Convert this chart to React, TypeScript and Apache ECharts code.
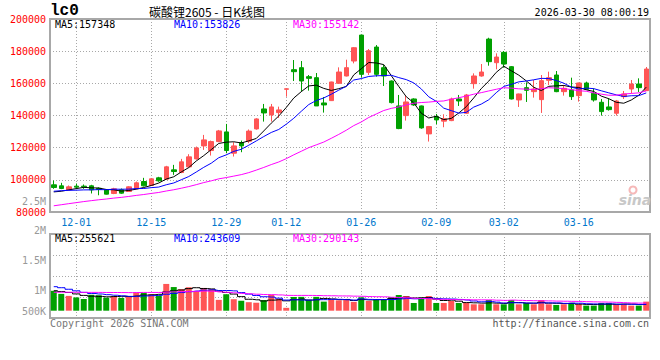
import React, { useEffect, useRef } from "react";
import * as echarts from "echarts";

// ---------- data ----------
const dates = [
  "11-26", "11-27", "11-28",
  "12-01", "12-02", "12-03", "12-04", "12-05",
  "12-08", "12-09", "12-10", "12-11", "12-12",
  "12-15", "12-16", "12-17", "12-18", "12-19",
  "12-22", "12-23", "12-24", "12-25", "12-26",
  "12-29", "12-30", "12-31",
  "01-05", "01-06", "01-07", "01-08", "01-09",
  "01-12", "01-13", "01-14", "01-15", "01-16",
  "01-19", "01-20", "01-21", "01-22", "01-23",
  "01-26", "01-27", "01-28", "01-29", "01-30",
  "02-02", "02-03", "02-04", "02-05", "02-06",
  "02-09", "02-10", "02-11", "02-12", "02-13",
  "02-24", "02-25", "02-26", "02-27",
  "03-02", "03-03", "03-04", "03-05", "03-06",
  "03-09", "03-10", "03-11", "03-12", "03-13",
  "03-16", "03-17", "03-18", "03-19", "03-20",
  "03-23", "03-24", "03-25", "03-26", "03-27",
];

const opens = [
  96900, 96280, 93790, 96070, 96070, 96280, 94700, 93790, 91520, 93790,
  92760, 94410, 98960, 96480, 101240, 100410, 106210, 104550, 108070, 113030,
  121100, 118210, 123790, 129790, 116550, 123170, 124000, 131660, 144080, 140350,
  141800, 156300, 168490, 169730, 164150, 163520, 147800, 149250, 160010, 164560,
  173870, 190010, 166830, 182560, 169730, 161460, 145940, 139940, 150280, 145940,
  128560, 139320, 136500, 136830, 150280, 141390, 159800, 164560, 187520, 172830,
  179250, 170350, 149660, 157320, 154830, 149870, 161870, 165180, 154830, 155870,
  152350, 160210, 153800, 148210, 145320, 141390, 151730, 156490, 159590, 155450,
];

const closes = [
  95240, 94620, 95650, 95450, 95660, 93790, 94000, 91100, 94410, 91720,
  95650, 98140, 96280, 100620, 99380, 108070, 105170, 111170, 114280, 119860,
  124830, 123790, 130410, 118210, 121100, 121100, 130300, 137870, 141590, 145320,
  143460, 156600, 167250, 161460, 163110, 145940, 146560, 160830, 167040, 169730,
  182150, 165590, 180280, 165590, 164560, 148010, 131870, 148420, 146560, 132280,
  133110, 137250, 138000, 150280, 149040, 152770, 164560, 167040, 173460, 176350,
  172010, 150280, 153390, 155660, 156490, 161660, 163520, 154830, 156900, 151730,
  160210, 156280, 149660, 142420, 143660, 149040, 153390, 159590, 157320, 168900,
];

const highs = [
  99580, 98140, 96480, 97720, 97100, 96900, 95300, 94000, 95030, 94620,
  96070, 98960, 101240, 101000, 101860, 108690, 109310, 113030, 115930, 120690,
  127930, 124410, 131030, 134760, 123380, 124410, 131300, 138300, 147180, 147180,
  145500, 156700, 174490, 173870, 165180, 166420, 151520, 161000, 169940, 174700,
  182560, 190200, 181320, 183800, 171390, 161800, 152770, 152150, 150700, 146200,
  133500, 140970, 140760, 151110, 152770, 153390, 166210, 172010, 188350, 178630,
  180080, 170770, 153600, 160630, 162080, 165180, 167250, 167660, 158970, 163520,
  160400, 161040, 156900, 150280, 150700, 149660, 155250, 162080, 163110, 170150,
];

const lows = [
  94410, 94210, 93380, 94210, 94410, 91520, 90400, 90900, 91100, 91310,
  92550, 94210, 95860, 96280, 98760, 100000, 103100, 104140, 107660, 112600,
  118620, 115100, 123380, 116550, 114480, 117170, 122800, 131200, 136210, 136210,
  138500, 151700, 161460, 154830, 155450, 145940, 141800, 149000, 159800, 164300,
  172420, 163520, 165180, 164150, 158350, 147500, 131500, 136830, 146000, 131800,
  123800, 134560, 132700, 136500, 145940, 141000, 156700, 164150, 170970, 168700,
  169730, 150000, 145320, 148420, 151110, 141590, 158970, 154500, 152350, 149660,
  148630, 155870, 148630, 139940, 143040, 139940, 150280, 153800, 154630, 155300,
];

const volumes = [
  774000, 654000, 576000, 516000, 456000, 619000, 602000, 507000, 572000, 499000,
  572000, 705000, 688000, 636000, 585000, 1041000, 920000, 839000, 912000, 757000,
  886000, 839000, 421000, 641000, 447000, 387000, 331000, 310000, 413000, 619000,
  464000, 112000, 533000, 538000, 421000, 538000, 353000, 439000, 404000, 456000,
  344000, 520000, 378000, 456000, 456000, 533000, 611000, 572000, 301000, 507000,
  572000, 301000, 301000, 378000, 301000, 301000, 249000, 249000, 417000, 249000,
  249000, 417000, 249000, 301000, 249000, 417000, 249000, 224000, 249000, 301000,
  249000, 198000, 198000, 301000, 301000, 249000, 249000, 198000, 198000, 353000,
];

// closes and volumes of the 29 sessions before the window (needed for the moving averages)
const priorCloses = [
  74800, 75600, 76200, 75900, 76800, 77400, 76900, 77600, 78100, 78250,
  78900, 79600, 80400, 81200, 80700, 81900, 82600, 83400, 84250, 86000,
  91200, 93340, 94500, 93900, 93560, 92600, 91400, 91500, 91760,
];
const priorVolumes = [
  560000, 620000, 540000, 600000, 580000, 650000, 590000, 610000, 570000, 640000,
  560000, 600000, 630000, 590000, 620000, 680000, 610000, 590000, 640000, 660000,
  1050000, 1180000, 1120000, 1060000, 1040000, 820000, 760000, 790000, 746000,
];

const axisLabelDates = ["12-01", "12-15", "12-29", "01-12", "01-26", "02-09", "03-02", "03-16"];
const volTickLabels = ["2.5M", "2M", "1.5M", "1M", "500K"];
const priceMaLabels = ["MA5:157348", "MA10:153826", "MA30:155142"];
const volMaLabels = ["MA5:255621", "MA10:243609", "MA30:290143"];
const titleCode = "lc0";
const titleText = "碳酸锂2605 - 日K线图";
const timeText = "2026-03-30 08:00:19";
const copyrightText = "Copyright 2026 SINA.COM";
const urlText = "http://finance.sina.com.cn";

// ---------- helpers ----------
function movingAvg(values: number[], prior: number[], n: number): number[] {
  const all = prior.concat(values);
  const off = prior.length;
  return values.map((_, i) => {
    const end = off + i;
    let s = 0;
    for (let k = end - n + 1; k <= end; k++) s += all[k];
    return Math.round(s / n);
  });
}

const UP = "#ff5555";
const DOWN = "#00a000";
const GRIDC = "#a8a8a8";
const MONO = '"DejaVu Sans Mono", monospace';
const maColors = ["#000000", "#0000ff", "#ff00ff"];
const maPeriods = [5, 10, 30];

const isLabelDate = (_i: number, v: string) => axisLabelDates.indexOf(v) >= 0;

function txt(x: number, y: number, text: string, fill: string, font: string, align = "left") {
  return {
    type: "text",
    x,
    y,
    silent: true,
    z: 100,
    style: {
      text,
      fill,
      font,
      align,
      textAlign: align,
      verticalAlign: "middle",
      textVerticalAlign: "middle",
    },
  };
}

function buildOption() {
  const candleData = dates.map((_, i) => [opens[i], closes[i], lows[i], highs[i]]);
  const volData = volumes.map((v, i) => ({
    value: v,
    itemStyle: { color: closes[i] >= opens[i] ? UP : DOWN },
  }));

  const dotted = { color: GRIDC, type: [1, 2], width: 1 };

  const priceMaSeries = maPeriods.map((p, k) => ({
    type: "line",
    name: "MA" + p,
    xAxisIndex: 0,
    yAxisIndex: 0,
    data: movingAvg(closes, priorCloses, p),
    showSymbol: false,
    symbol: "none",
    lineStyle: { color: maColors[k], width: 1 },
    z: 5,
  }));

  const volMaSeries = maPeriods.map((p, k) => ({
    type: "line",
    name: "VMA" + p,
    xAxisIndex: 1,
    yAxisIndex: 1,
    data: movingAvg(volumes, priorVolumes, p),
    showSymbol: false,
    symbol: "none",
    step: "middle",
    lineStyle: { color: maColors[k], width: 1 },
    z: 5,
  }));

  const volLabelY = [201, 230.5, 260, 290, 311];
  const maLabelX = [55, 174, 293];

  const graphic: any[] = [
    txt(50, 11, titleCode, "#000", 'bold 16px "Liberation Mono", monospace'),
    txt(207, 11, titleText, "#000", '12px "Noto Sans CJK SC", sans-serif', "center"),
    txt(649, 12, timeText, "#000", "10px " + MONO, "right"),
    ...priceMaLabels.map((t, k) => txt(maLabelX[k], 24, t, maColors[k], "10px " + MONO)),
    ...volMaLabels.map((t, k) => txt(maLabelX[k], 238.5, t, maColors[k], "10px " + MONO)),
    ...volTickLabels.map((t, k) => txt(46, volLabelY[k], t, "#999999", "10px " + MONO, "right")),
    txt(50, 323, copyrightText, "#777777", "10px " + MONO),
    txt(649, 323, urlText, "#555555", "10px " + MONO, "right"),
    {
      type: "ring",
      silent: true,
      z: 90,
      shape: { cx: 633, cy: 190, r: 4.5, r0: 2.5 },
      style: { fill: "#f6b8b8" },
    },
    txt(635, 200, "sina", "#c8c8c8", 'italic bold 14px "DejaVu Sans", sans-serif', "center"),
  ];

  return {
    animation: false,
    backgroundColor: "#ffffff",
    grid: [
      { left: 50, top: 19, width: 600, height: 193, show: true, borderColor: GRIDC, borderWidth: 2, backgroundColor: "transparent" },
      { left: 50, top: 234, width: 600, height: 84, show: true, borderColor: GRIDC, borderWidth: 2, backgroundColor: "transparent" },
    ],
    xAxis: [
      {
        type: "category",
        gridIndex: 0,
        data: dates,
        boundaryGap: true,
        axisLine: { show: false },
        axisTick: { show: false, alignWithLabel: true },
        axisLabel: {
          interval: isLabelDate,
          color: "#0077cc",
          fontFamily: MONO,
          fontSize: 10,
          margin: 5,
        },
        splitLine: { show: true, interval: isLabelDate, alignWithLabel: true, lineStyle: dotted },
      },
      {
        type: "category",
        gridIndex: 1,
        data: dates,
        boundaryGap: true,
        axisLine: { show: false },
        axisTick: { show: false, alignWithLabel: true },
        axisLabel: { show: false },
        splitLine: { show: true, interval: isLabelDate, alignWithLabel: true, lineStyle: dotted },
      },
    ],
    yAxis: [
      {
        type: "value",
        gridIndex: 0,
        min: 80000,
        max: 200000,
        interval: 20000,
        axisLine: { show: false },
        axisTick: { show: false },
        axisLabel: {
          color: "#ff0000",
          fontFamily: MONO,
          fontSize: 10,
          margin: 4,
          formatter: (v: number) => String(v),
        },
        splitLine: { show: true, lineStyle: dotted },
      },
      {
        type: "value",
        gridIndex: 1,
        min: -284000,
        max: 2984000,
        axisLine: { show: false },
        axisTick: { show: false },
        axisLabel: { show: false },
        splitLine: { show: false },
      },
      {
        type: "value",
        gridIndex: 1,
        position: "left",
        min: 0,
        max: 4,
        interval: 1,
        axisLine: { show: false },
        axisTick: { show: false },
        axisLabel: { show: false },
        splitLine: { show: true, lineStyle: dotted },
      },
    ],
    series: [
      {
        type: "candlestick",
        xAxisIndex: 0,
        yAxisIndex: 0,
        data: candleData,
        barWidth: 5,
        itemStyle: {
          color: UP,
          color0: DOWN,
          borderColor: UP,
          borderColor0: DOWN,
          borderWidth: 1,
        },
        z: 3,
      },
      ...priceMaSeries,
      {
        type: "bar",
        xAxisIndex: 1,
        yAxisIndex: 1,
        data: volData,
        barWidth: 6,
        z: 3,
      },
      ...volMaSeries,
    ],
    graphic,
  };
}

export default function App() {
  const ref = useRef<HTMLDivElement>(null);
  useEffect(() => {
    if (!ref.current) return;
    const chart = echarts.init(ref.current, null, { renderer: "svg" });
    chart.setOption(buildOption() as any);
    return () => chart.dispose();
  }, []);
  return (
    <div
      ref={ref}
      style={{ position: "absolute", left: 0, top: 0, width: 660, height: 360, background: "#fff" }}
    />
  );
}
